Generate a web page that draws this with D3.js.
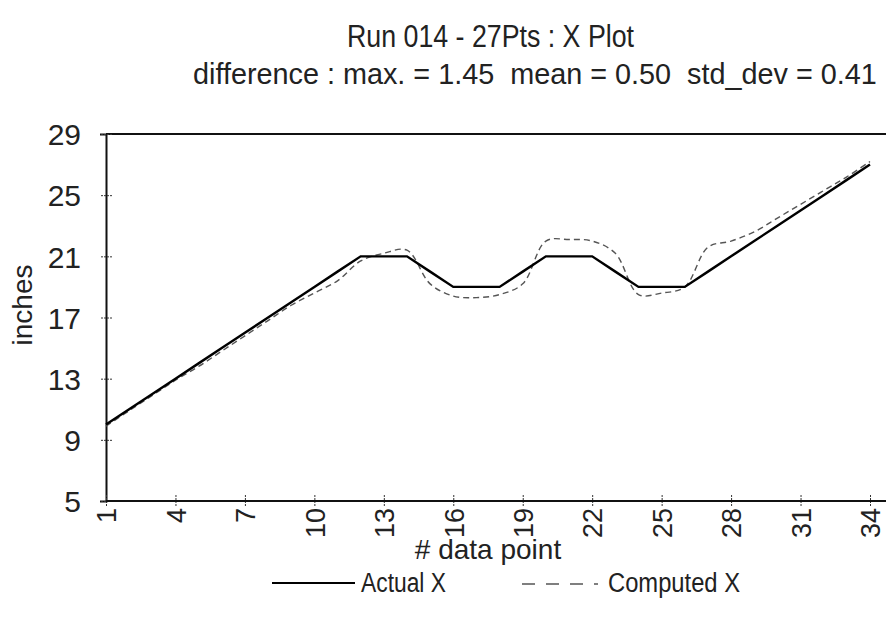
<!DOCTYPE html>
<html><head><meta charset="utf-8">
<script src="https://cdn.jsdelivr.net/npm/d3@7"></script>
<style>body{margin:0;background:#fff}svg{display:block}text{font-family:"Liberation Sans",Arial,sans-serif;fill:#222;white-space:pre}</style>
</head><body><div id="chart"></div>
<script>
const titleText = "Run 014 - 27Pts : X Plot";
const subtitleText = "difference : max. = 1.45  mean = 0.50  std_dev = 0.41";
const points = d3.range(1, 35);
const actualX = [10,11,12,13,14,15,16,17,18,19,20,21,21,21,20,19,19,19,20,21,21,21,20,19,19,19,20,21,22,23,24,25,26,27];
const computedX = [9.9,10.9,11.9,12.9,13.8,14.8,15.8,16.8,17.8,18.6,19.4,20.7,21.2,21.4,19.2,18.4,18.3,18.5,19.2,22.0,22.1,22.0,21.2,18.5,18.6,19.0,21.6,22.0,22.6,23.5,24.4,25.3,26.2,27.2];
const yTicks = [5,9,13,17,21,25,29];
const xTicks = [1,4,7,10,13,16,19,22,25,28,31,34];
const seriesNames = ["Actual X", "Computed X"];

const W = 886, H = 617;
const svg = d3.select("#chart").append("svg").attr("width", W).attr("height", H);
const x = d3.scaleLinear().domain([1, 34]).range([106, 870]);
const y = d3.scaleLinear().domain([5, 29]).range([501, 134]);
const plotRight = 886;

// top frame line
svg.append("line").attr("x1", x(1)).attr("x2", plotRight).attr("y1", y(29)).attr("y2", y(29)).attr("stroke", "#111").attr("stroke-width", 2);

// y axis
const yAxis = d3.axisLeft(y).tickValues(yTicks).tickSize(6).tickPadding(19);
const gy = svg.append("g").attr("transform", `translate(${x(1)},0)`).call(yAxis);
gy.select(".domain").attr("stroke", "#111").attr("stroke-width", 2);
gy.selectAll(".tick line").attr("stroke", "#333").attr("x2", -6).attr("x1", 6).attr("stroke-dasharray", "2,1");
gy.selectAll(".tick text").style("font-size", "30px").attr("fill", "#222").attr("dy", "0.36em");

// x axis
const xAxis = d3.axisBottom(x).tickValues(xTicks).tickSize(6).tickFormat(d3.format("d"));
const gx = svg.append("g").attr("transform", `translate(0,${y(5)})`).call(xAxis);
gx.select(".domain").remove();
gx.append("line").attr("x1", x(1)).attr("x2", plotRight).attr("y1", 0).attr("y2", 0).attr("stroke", "#111").attr("stroke-width", 2);
gx.selectAll(".tick line").attr("stroke", "#333").attr("y1", -6).attr("y2", 6).attr("stroke-dasharray", "2,1");
gx.selectAll(".tick text").style("font-size", "27px").attr("fill", "#222")
  .attr("transform", "rotate(-90)").attr("text-anchor", "end").attr("x", -7).attr("y", 0).attr("dy", "0.36em");

// series
const line = d3.line().x((d, i) => x(points[i])).y(d => y(d));
const smooth = d3.line().x((d, i) => x(points[i])).y(d => y(d)).curve(d3.curveCatmullRom.alpha(0.5));
svg.append("path").datum(computedX).attr("d", smooth).attr("fill", "none").attr("stroke", "#555").attr("stroke-width", 1.4).attr("stroke-dasharray", "6,4");
svg.append("path").datum(actualX).attr("d", line).attr("fill", "none").attr("stroke", "#000").attr("stroke-width", 2.4);

// titles
svg.append("text").attr("x", 347).attr("y", 47).attr("textLength", 287).attr("lengthAdjust", "spacingAndGlyphs").style("font-size", "31px").text(titleText);
svg.append("text").attr("x", 193).attr("y", 84).style("font-size", "28.8px").text(subtitleText);
svg.append("text").attr("x", 488).attr("y", 559).attr("text-anchor", "middle").style("font-size", "28px").text("# data point");
svg.append("text").attr("transform", "translate(32,305) rotate(-90)").attr("text-anchor", "middle").style("font-size", "28px").text("inches");

// legend
const lg = svg.append("g");
lg.append("line").attr("x1", 272).attr("x2", 355).attr("y1", 583).attr("y2", 583).attr("stroke", "#000").attr("stroke-width", 2);
lg.append("text").attr("x", 361).attr("y", 592).attr("textLength", 85).attr("lengthAdjust", "spacingAndGlyphs").style("font-size", "27px").text(seriesNames[0]);
lg.append("line").attr("x1", 522).attr("x2", 598).attr("y1", 584).attr("y2", 584).attr("stroke", "#555").attr("stroke-width", 1.5).attr("stroke-dasharray", "13,11");
lg.append("text").attr("x", 608).attr("y", 592).attr("textLength", 132).attr("lengthAdjust", "spacingAndGlyphs").style("font-size", "27px").text(seriesNames[1]);
</script></body></html>
